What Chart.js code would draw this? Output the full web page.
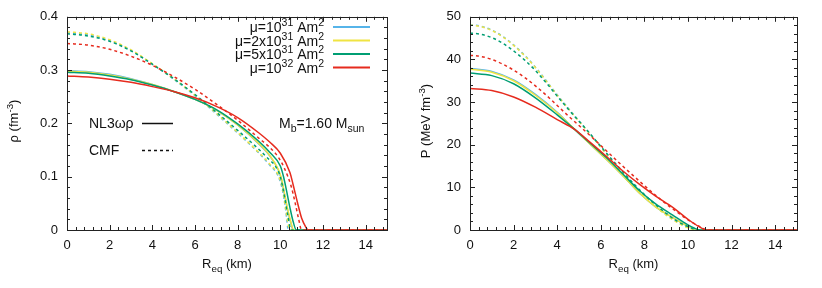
<!DOCTYPE html>
<html>
<head>
<meta charset="utf-8">
<script src="https://cdn.jsdelivr.net/npm/chart.js@4.4.0/dist/chart.umd.min.js"></script>
<style>
  body { margin: 0; background: #fff; width: 822px; height: 288px; overflow: hidden; position: relative; }
  .panel { position: absolute; top: 0; }
</style>
</head>
<body>
<div class="panel" style="left:0"><canvas id="rhoChart" width="410" height="288"></canvas></div>
<div class="panel" style="left:410px"><canvas id="presChart" width="412" height="288"></canvas></div>
<script>
// Tick labels
const xTicks = [0, 2, 4, 6, 8, 10, 12, 14];
const rhoTicks = [0, 0.1, 0.2, 0.3, 0.4];
const presTicks = [0, 10, 20, 30, 40, 50];

// Series names (mu values) and colours
const muLabels = ['31', '31', '31', '32'];
const muPrefix = ['\u03bc=10', '\u03bc=2x10', '\u03bc=5x10', '\u03bc=10'];
const colors = ['#56b4e9', '#f0e442', '#009e73', '#e62b1e'];

// ---- density, NL3wr (solid) ----
const rhoR_nl3_1 = [0, 1, 2, 3, 4, 5, 6, 7, 8, 9, 9.5, 9.9, 10.05, 10.2, 10.35, 10.5, 10.6, 15];
const rho_nl3_1 = [0.299, 0.297, 0.292, 0.284, 0.273, 0.260, 0.245, 0.225, 0.197, 0.161, 0.139, 0.113, 0.095, 0.066, 0.036, 0.012, 0, 0];
const rhoR_nl3_2 = [0, 1, 2, 3, 4, 5, 6, 7, 8, 9, 9.5, 9.9, 10.05, 10.2, 10.35, 10.5, 10.62, 15];
const rho_nl3_2 = [0.298, 0.296, 0.291, 0.283, 0.273, 0.260, 0.245, 0.225, 0.197, 0.162, 0.140, 0.114, 0.097, 0.068, 0.038, 0.014, 0, 0];
const rhoR_nl3_5 = [0, 1, 2, 3, 4, 5, 6, 7, 8, 9, 9.5, 10, 10.15, 10.3, 10.45, 10.6, 10.75, 15];
const rho_nl3_5 = [0.296, 0.294, 0.289, 0.282, 0.272, 0.260, 0.245, 0.226, 0.199, 0.166, 0.146, 0.120, 0.100, 0.072, 0.042, 0.016, 0, 0];
const rhoR_nl3_10 = [0, 1, 2, 3, 4, 5, 6, 7, 8, 9, 9.5, 10, 10.45, 10.6, 10.8, 11.0, 11.2, 11.3, 15];
const rho_nl3_10 = [0.289, 0.287, 0.283, 0.277, 0.269, 0.260, 0.248, 0.232, 0.211, 0.182, 0.165, 0.144, 0.108, 0.085, 0.052, 0.022, 0.005, 0, 0];

// ---- density, CMF (dashed) ----
const rhoR_cmf_1 = [0, 1, 2, 3, 4, 5, 6, 7, 8, 9, 9.5, 9.9, 10.1, 10.25, 10.38, 15];
const rho_cmf_1 = [0.370, 0.366, 0.355, 0.337, 0.311, 0.283, 0.252, 0.218, 0.182, 0.144, 0.122, 0.101, 0.075, 0.038, 0, 0];
const rhoR_cmf_2 = [0, 1, 2, 3, 4, 5, 6, 7, 8, 9, 9.5, 9.9, 10.1, 10.25, 10.4, 10.45, 15];
const rho_cmf_2 = [0.372, 0.368, 0.357, 0.338, 0.312, 0.284, 0.253, 0.219, 0.183, 0.145, 0.124, 0.103, 0.078, 0.040, 0.004, 0, 0];
const rhoR_cmf_5 = [0, 1, 2, 3, 4, 5, 6, 7, 8, 9, 9.5, 9.75, 10, 10.2, 10.35, 10.5, 15];
const rho_cmf_5 = [0.368, 0.364, 0.354, 0.336, 0.311, 0.284, 0.254, 0.221, 0.187, 0.151, 0.131, 0.121, 0.100, 0.062, 0.028, 0, 0];
const rhoR_cmf_10 = [0, 1, 2, 3, 4, 5, 6, 7, 8, 9, 9.5, 9.9, 10.2, 10.5, 10.7, 10.85, 11.0, 15];
const rho_cmf_10 = [0.350, 0.347, 0.339, 0.326, 0.309, 0.288, 0.264, 0.236, 0.206, 0.172, 0.155, 0.137, 0.115, 0.083, 0.050, 0.022, 0, 0];

// ---- pressure, NL3wr (solid) ----
const pR_nl3_1 = [0, 1, 2, 3, 4, 4.8, 5.5, 6.25, 7, 7.78, 8.5, 9.3, 10, 10.3, 10.45, 15];
const p_nl3_1 = [37.9, 37.2, 35.2, 31.8, 27.6, 23.6, 20.2, 16.6, 12.8, 8.6, 5.5, 2.9, 0.9, 0.3, 0, 0];
const pR_nl3_2 = [0, 1, 2, 3, 4, 4.8, 5.5, 6.25, 7, 7.78, 8.5, 9.3, 10, 10.3, 10.45, 15];
const p_nl3_2 = [37.7, 37.0, 35.0, 31.6, 27.5, 23.6, 20.2, 16.6, 12.8, 8.6, 5.5, 2.9, 0.9, 0.3, 0, 0];
const pR_nl3_5 = [0, 1, 2, 3, 4, 4.8, 5.5, 6.25, 7, 7.78, 8.5, 9.3, 10, 10.3, 10.55, 15];
const p_nl3_5 = [36.8, 36.2, 34.3, 31.0, 27.0, 23.6, 20.4, 17.0, 13.2, 9.2, 6.2, 3.5, 1.2, 0.4, 0, 0];
const pR_nl3_10 = [0, 1, 2, 3, 4, 4.8, 5.5, 6.25, 7, 7.78, 8.5, 9.3, 10, 10.5, 10.9, 15];
const p_nl3_10 = [33.2, 32.7, 31.2, 28.8, 25.9, 23.6, 20.6, 17.3, 13.9, 10.7, 8.0, 5.3, 2.5, 0.8, 0, 0];

// ---- pressure, CMF (dashed) ----
const pR_cmf = [0, 0.5, 1, 1.5, 2, 2.5, 3, 3.5, 4, 4.5, 5, 5.5, 6, 6.5, 7, 7.5, 8, 8.5, 9, 9.5, 10];
const p_cmf_1 = [48.2, 47.8, 46.9, 45.4, 43.4, 41.0, 38.2, 35.0, 31.7, 28.6, 25.6, 22.6, 19.5, 16.4, 13.4, 10.6, 8.0, 5.7, 3.6, 1.9, 0.6];
const p_cmf_2 = [48.1, 47.7, 46.8, 45.3, 43.3, 40.9, 38.1, 34.9, 31.6, 28.5, 25.5, 22.5, 19.4, 16.3, 13.3, 10.5, 7.9, 5.6, 3.5, 1.8, 0.5];
const p_cmf_5 = [46.2, 45.9, 45.1, 43.8, 42.0, 39.9, 37.4, 34.5, 31.4, 28.4, 25.5, 22.6, 19.6, 16.6, 13.7, 10.9, 8.3, 6.0, 3.9, 2.1, 0.8];
const p_cmf_10 = [41.0, 40.7, 40.0, 38.9, 37.5, 35.8, 33.8, 31.6, 29.2, 26.8, 24.5, 22.2, 19.8, 17.4, 15.0, 12.7, 10.4, 8.2, 6.1, 4.2, 2.4];
const pTailR = [[10.35, 15], [10.35, 15], [10.5, 15], [10.5, 10.9, 15]];
const pTailV = [[0, 0], [0, 0], [0, 0], [0.9, 0, 0]];

const FONT = '"Liberation Sans", Arial, Helvetica, sans-serif';

function pts(xs, ys) {
  return xs.map((x, i) => ({ x: x, y: ys[i] }));
}

function line(data, color, dashed) {
  return {
    data: data,
    borderColor: color,
    borderWidth: 1.5,
    borderDash: dashed ? [3, 3] : [],
    pointRadius: 0,
    fill: false,
    cubicInterpolationMode: 'monotone'
  };
}

// Utility: draw text with super/subscripts. seg.s = 1 sup, -1 sub
function richWidth(ctx, segs, size) {
  let w = 0;
  segs.forEach(s => {
    ctx.font = (s.s ? size * 0.75 : size) + 'px ' + FONT;
    w += ctx.measureText(s.t).width;
  });
  return w;
}

function drawRich(ctx, segs, x, y, align, size) {
  const w = richWidth(ctx, segs, size);
  let cx = align === 'right' ? x - w : align === 'center' ? x - w / 2 : x;
  ctx.textAlign = 'left';
  ctx.textBaseline = 'alphabetic';
  segs.forEach(s => {
    ctx.font = (s.s ? size * 0.75 : size) + 'px ' + FONT;
    const dy = s.s === 1 ? -size * 0.42 : s.s === -1 ? size * 0.3 : 0;
    ctx.fillText(s.t, cx, y + dy);
    cx += ctx.measureText(s.t).width;
  });
}

// frame, inward ticks, axis titles, annotations
const decor = {
  id: 'decor',
  afterDatasetsDraw(chart, args, opts) {
    const ctx = chart.ctx;
    const a = chart.chartArea;
    const xs = chart.scales.x, ys = chart.scales.y;
    ctx.save();
    ctx.strokeStyle = '#222';
    ctx.lineWidth = 1;
    ctx.strokeRect(Math.round(a.left) + 0.5, Math.round(a.top) + 0.5,
      Math.round(a.right - a.left), Math.round(a.bottom - a.top));

    ctx.beginPath();
    for (let v = 0; v <= 15.001; v += 0.4) {
      const px = Math.round(xs.getPixelForValue(v)) + 0.5;
      const major = Math.abs(v / 2 - Math.round(v / 2)) < 0.01;
      const len = major ? 5 : 3;
      ctx.moveTo(px, a.bottom); ctx.lineTo(px, a.bottom - len);
      ctx.moveTo(px, a.top); ctx.lineTo(px, a.top + len);
    }
    const yMax = ys.max;
    for (let i = 0; i <= opts.yMinorCount; i++) {
      const v = yMax * i / opts.yMinorCount;
      const py = Math.round(ys.getPixelForValue(v)) + 0.5;
      const len = i % 5 === 0 ? 5 : 3;
      ctx.moveTo(a.left, py); ctx.lineTo(a.left + len, py);
      ctx.moveTo(a.right, py); ctx.lineTo(a.right - len, py);
    }
    ctx.stroke();

    ctx.fillStyle = '#111';
    drawRich(ctx, [{ t: 'R' }, { t: 'eq', s: -1 }, { t: ' (km)' }], (a.left + a.right) / 2, 268, 'center', 13);
    ctx.save();
    ctx.translate(opts.yTitleX, 121);
    ctx.rotate(-Math.PI / 2);
    drawRich(ctx, opts.yTitle, 0, 0, 'center', 13);
    ctx.restore();
    if (opts.extra) opts.extra(ctx);
    ctx.restore();
  }
};

function rhoLegend(ctx) {
  const rowsY = [27, 40.5, 54, 67.5];
  for (let i = 0; i < 4; i++) {
    ctx.fillStyle = '#111';
    drawRich(ctx, [{ t: muPrefix[i] }, { t: muLabels[i], s: 1 }, { t: ' Am' }, { t: '2', s: 1 }],
      324, rowsY[i] + 5, 'right', 14);
    ctx.strokeStyle = colors[i];
    ctx.lineWidth = 2;
    ctx.setLineDash([]);
    ctx.beginPath();
    ctx.moveTo(333, rowsY[i]); ctx.lineTo(370, rowsY[i]);
    ctx.stroke();
  }
  ctx.fillStyle = '#111';
  drawRich(ctx, [{ t: 'NL3\u03c9\u03c1' }], 89, 128, 'left', 14);
  drawRich(ctx, [{ t: 'CMF' }], 89, 155, 'left', 14);
  drawRich(ctx, [{ t: 'M' }, { t: 'b', s: -1 }, { t: '=1.60 M' }, { t: 'sun', s: -1 }], 279, 128, 'left', 14);
  ctx.strokeStyle = '#111';
  ctx.lineWidth = 1.5;
  ctx.beginPath();
  ctx.moveTo(142, 123.5); ctx.lineTo(173, 123.5);
  ctx.stroke();
  ctx.setLineDash([3, 3]);
  ctx.beginPath();
  ctx.moveTo(142, 150.5); ctx.lineTo(173, 150.5);
  ctx.stroke();
  ctx.setLineDash([]);
}

function makeChart(id, datasets, yMax, yTicks, yWidth, rightPad, decorOpts) {
  const ctx = document.getElementById(id).getContext('2d');
  return new Chart(ctx, {
    type: 'line',
    data: { datasets: datasets },
    plugins: [decor],
    options: {
      responsive: false,
      animation: false,
      devicePixelRatio: 1,
      layout: { padding: { top: 15, right: rightPad, left: 0, bottom: 0 } },
      plugins: { legend: { display: false }, tooltip: { enabled: false }, decor: decorOpts },
      scales: {
        x: {
          type: 'linear', min: 0, max: 15,
          grid: { display: false, drawTicks: false },
          border: { display: false },
          ticks: { font: { family: FONT, size: 13 }, color: '#111', padding: 8, maxRotation: 0 },
          afterBuildTicks: s => { s.ticks = xTicks.map(v => ({ value: v })); },
          afterFit: s => { s.height = 58; }
        },
        y: {
          type: 'linear', min: 0, max: yMax,
          grid: { display: false, drawTicks: false },
          border: { display: false },
          ticks: { font: { family: FONT, size: 13 }, color: '#111', padding: 9, callback: v => String(v) },
          afterBuildTicks: s => { s.ticks = yTicks.map(v => ({ value: v })); },
          afterFit: s => { s.width = yWidth; }
        }
      }
    }
  });
}

// density panel: red drawn on top (index 0 drawn last)
const rhoSets = [
  line(pts(rhoR_nl3_10, rho_nl3_10), colors[3], false),
  line(pts(rhoR_cmf_10, rho_cmf_10), colors[3], true),
  line(pts(rhoR_nl3_5, rho_nl3_5), colors[2], false),
  line(pts(rhoR_cmf_5, rho_cmf_5), colors[2], true),
  line(pts(rhoR_nl3_2, rho_nl3_2), colors[1], false),
  line(pts(rhoR_cmf_2, rho_cmf_2), colors[1], true),
  line(pts(rhoR_nl3_1, rho_nl3_1), colors[0], false),
  line(pts(rhoR_cmf_1, rho_cmf_1), colors[0], true)
];

const pCmf = [p_cmf_1, p_cmf_2, p_cmf_5, p_cmf_10].map((v, i) =>
  pts(pR_cmf.concat(pTailR[i]), v.concat(pTailV[i])));

const presSets = [
  line(pts(pR_nl3_10, p_nl3_10), colors[3], false),
  line(pCmf[3], colors[3], true),
  line(pts(pR_nl3_5, p_nl3_5), colors[2], false),
  line(pCmf[2], colors[2], true),
  line(pts(pR_nl3_2, p_nl3_2), colors[1], false),
  line(pCmf[1], colors[1], true),
  line(pts(pR_nl3_1, p_nl3_1), colors[0], false),
  line(pCmf[0], colors[0], true)
];

makeChart('rhoChart', rhoSets, 0.4, rhoTicks, 67, 23, {
  yMinorCount: 20,
  yTitleX: 18,
  yTitle: [{ t: '\u03c1 (fm' }, { t: '-3', s: 1 }, { t: ')' }],
  extra: rhoLegend
});

makeChart('presChart', presSets, 50, presTicks, 60, 25, {
  yMinorCount: 25,
  yTitleX: 20,
  yTitle: [{ t: 'P (MeV fm' }, { t: '-3', s: 1 }, { t: ')' }]
});
</script>
</body>
</html>
